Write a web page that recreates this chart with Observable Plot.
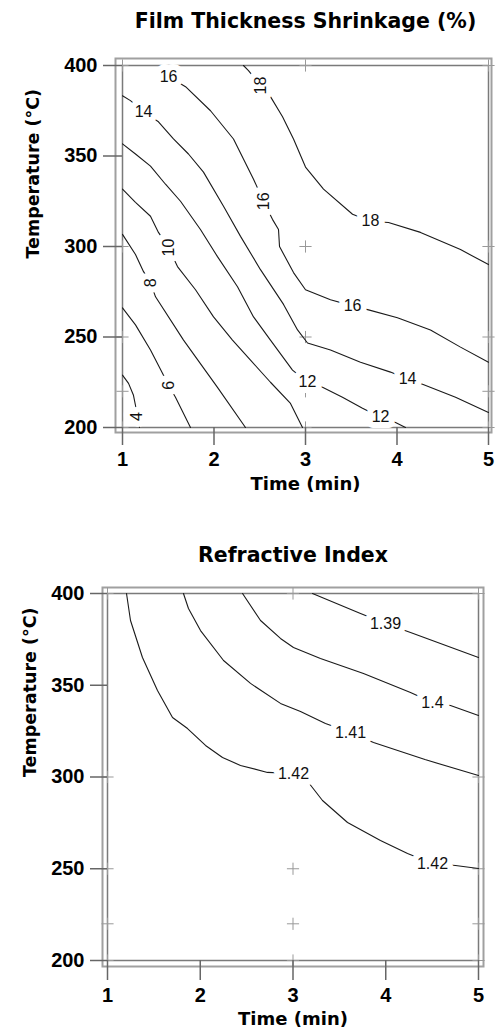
<!DOCTYPE html>
<html><head><meta charset="utf-8">
<script src="https://cdn.jsdelivr.net/npm/d3@7"></script>
<script src="https://cdn.jsdelivr.net/npm/@observablehq/plot@0.6"></script>
<style>body{margin:0;background:#fff} svg{display:block}</style>
</head><body><div id="c"></div>
<script>
// ---------- shared ----------
const timeTicks = [1, 2, 3, 4, 5];
const tempTicks = [200, 250, 300, 350, 400];
const designTimes = [1, 3, 5];
const designTemps = [200, 220, 250, 300, 400];

// ---------- Film Thickness Shrinkage (%) contours: [time, temperature] ----------
const shrink4 = [[1, 228.9], [1.066, 224.4], [1.12, 217.8], [1.153, 209.4], [1.186, 200]];
const shrink6 = [[1, 266.1], [1.142, 256.7], [1.306, 242.8], [1.437, 230], [1.503, 223.3], [1.579, 216.7], [1.743, 200]];
const shrink8 = [[1, 306.7], [1.142, 295.6], [1.23, 286.1], [1.306, 280], [1.361, 272.2], [1.667, 248.3], [2.038, 222.2], [2.344, 200]];
const shrink10 = [[1, 331.7], [1.142, 324.4], [1.306, 316.7], [1.393, 307.8], [1.503, 299.4], [1.601, 288.9], [1.798, 276.1], [1.995, 261.1], [2.202, 248.3], [2.399, 237.2], [2.617, 225], [2.836, 213.3], [2.967, 200]];
const shrink12 = [[1, 356.7], [1.142, 351.1], [1.306, 344.4], [1.47, 334.4], [1.634, 325], [1.852, 309.4], [2.038, 294.4], [2.257, 277.8], [2.432, 261.1], [2.617, 248.3], [2.858, 231.7], [3.022, 225], [3.186, 222.2], [3.404, 216.7], [3.623, 210.6], [3.82, 205.6], [3.984, 202.8], [4.093, 200]];
const shrink14 = [[1, 383.3], [1.087, 380.6], [1.23, 374.4], [1.393, 368.9], [1.557, 359.4], [1.721, 351.1], [1.885, 341.1], [2.104, 322.2], [2.29, 305.6], [2.508, 287.2], [2.76, 268], [2.913, 253.9], [3.022, 246.7], [3.273, 242.8], [3.601, 236.1], [3.929, 230.6], [4.115, 226.7], [4.279, 223.9], [4.64, 216.7], [5, 208.3]];
const shrink16 = [[1.415, 400], [1.503, 393.9], [1.689, 388.3], [1.962, 375], [2.213, 359.4], [2.432, 337.2], [2.541, 325], [2.639, 315], [2.705, 309.4], [2.716, 300], [2.869, 285.6], [3.0, 276.1], [3.273, 270.6], [3.514, 267.2], [3.689, 265], [4.005, 260.6], [4.366, 253.9], [4.694, 244.4], [5, 236.1]];
const shrink18 = [[2.322, 400], [2.377, 397.2], [2.508, 388.9], [2.617, 382.8], [2.749, 371.7], [2.869, 359.4], [3.0, 343.9], [3.197, 331.7], [3.514, 317.8], [3.71, 313.9], [3.907, 313.3], [4.257, 307.8], [4.694, 298.3], [5, 290]];
const shrinkLevels = [4, 6, 8, 10, 12, 14, 16, 18];
const shrinkLines = [shrink4, shrink6, shrink8, shrink10, shrink12, shrink14, shrink16, shrink18];
// label text, time, temperature, vertical?
const shrinkLabels = [
  ["4", 1.153, 206.1, true], ["6", 1.503, 223.3, true], ["8", 1.306, 280, true],
  ["10", 1.503, 299.4, true], ["12", 3.022, 225, false], ["12", 3.82, 205.6, false],
  ["14", 1.23, 374.4, false], ["14", 4.115, 226.7, false], ["16", 1.503, 393.9, false],
  ["16", 2.541, 325, true], ["16", 3.514, 267.2, false], ["18", 2.508, 388.9, true],
  ["18", 3.71, 313.9, false]
];

// ---------- Refractive Index contours ----------
const ri142 = [[1.205, 400], [1.248, 385.3], [1.377, 365.1], [1.539, 347.1], [1.701, 332.4], [1.863, 326.4], [2.057, 317.2], [2.24, 310.6], [2.434, 306.3], [2.725, 302.5], [3.005, 301.9], [3.167, 297], [3.318, 287.2], [3.588, 275.2], [3.943, 265.4], [4.235, 258.3], [4.504, 252.9], [4.752, 251.8], [5, 250.1]];
const ri141 = [[1.819, 400], [1.873, 391.8], [2.003, 379.8], [2.251, 363.5], [2.542, 351], [2.865, 340.1], [3.081, 335.7], [3.35, 329.2], [3.62, 324.3], [3.868, 318.8], [4.423, 309.5], [5, 300.8]];
const ri140 = [[2.456, 400], [2.65, 385.3], [2.865, 375.5], [3.005, 370.6], [3.296, 364.6], [3.76, 356.4], [4.267, 346], [4.504, 340.6], [4.698, 339], [5, 333.5]];
const ri139 = [[3.21, 400], [3.728, 389.1], [3.997, 383.7], [4.267, 378.7], [5, 365.1]];
const riLevels = [1.42, 1.41, 1.40, 1.39];
const riLines = [ri142, ri141, ri140, ri139];
const riLabels = [
  ["1.42", 3.005, 301.9, false], ["1.42", 4.504, 252.9, false],
  ["1.41", 3.62, 324.3, false], ["1.4", 4.504, 340.6, false], ["1.39", 3.997, 383.7, false]
];

// ---------- builders ----------
const design = designTimes.flatMap(t => designTemps.map(T => ({t, T})));
const toRows = (levels, lines) => lines.flatMap((pts, i) => pts.map(([t, T]) => ({level: levels[i], t, T})));
const toLabels = labels => labels.map(([text, t, T, v]) => ({text, t, T, rot: v ? -90 : 0}));
const fmt = d => String(d);

function chart(o) {
  const rows = toRows(o.levels, o.lines);
  const labs = toLabels(o.labels);
  return Plot.plot({
    width: 497, height: o.height,
    marginTop: o.mt, marginBottom: o.mb, marginLeft: o.ml, marginRight: o.mr,
    x: {domain: [1, 5]},
    y: {domain: [200, 400]},
    style: {fontFamily: "'Liberation Sans', Arial, sans-serif", background: "#fff", overflow: "visible"},
    marks: [
      Plot.frame({stroke: "#a0a0a0", strokeWidth: 2, ...o.outer}),
      Plot.frame({stroke: "#7a7a7a", strokeWidth: 1.5}),
      Plot.dot(design, {x: "t", y: "T", symbol: "plus", r: 4, stroke: "#999", strokeWidth: 1}),
      Plot.line(rows, {x: "t", y: "T", z: "level", stroke: "#1a1a1a", strokeWidth: 1.1, curve: "linear"}),
      Plot.text(labs, {x: "t", y: "T", text: "text", rotate: "rot", fontSize: 16, fill: "#111",
        stroke: "white", strokeWidth: 12, fontFamily: "'Liberation Sans', Arial, sans-serif"}),
      Plot.axisY(tempTicks, {ticks: tempTicks, tickFormat: fmt, tickSize: o.yts, tickPadding: o.ytp, fontSize: 20, fontWeight: "bold",
        fontFamily: "'Liberation Sans', Arial, sans-serif", stroke: "#666", strokeWidth: 1.5, fill: "#000", label: null}),
      Plot.axisX(timeTicks, {ticks: timeTicks, tickFormat: fmt, tickSize: o.xts, tickPadding: o.xtp, fontSize: 20, fontWeight: "bold",
        fontFamily: "'Liberation Sans', Arial, sans-serif", stroke: "#666", strokeWidth: 1.5, fill: "#000", label: null}),
      Plot.text([o.title], {frameAnchor: "top", dy: o.titleDy, fontSize: 20.5, fontWeight: "bold",
        fontFamily: "'DejaVu Sans', sans-serif", lineAnchor: "middle", fill: "#000"}),
      Plot.text(["Time (min)"], {frameAnchor: "bottom", dy: o.xlDy, fontSize: 18, fontWeight: "bold",
        fontFamily: "'DejaVu Sans', sans-serif", lineAnchor: "middle", fill: "#000"}),
      Plot.text(["Temperature (°C)"], {frameAnchor: "left", dx: o.ylDx, dy: o.ylDy, rotate: -90, fontSize: 17.5, fontWeight: "bold",
        fontFamily: "'DejaVu Sans', sans-serif", lineAnchor: "middle", fill: "#000"})
    ]
  });
}

const c = document.getElementById("c");
c.append(chart({
  levels: shrinkLevels, lines: shrinkLines, labels: shrinkLabels,
  title: "Film Thickness Shrinkage (%)",
  height: 500, mt: 65, mb: 73, ml: 122, mr: 9,
  outer: {insetLeft: -7, insetTop: -7, insetRight: -3, insetBottom: -5},
  yts: 19, ytp: 6, xts: 18, xtp: 6,
  titleDy: -44, xlDy: 57, ylDx: -89, ylDy: 12
}));
c.append(chart({
  levels: riLevels, lines: riLines, labels: riLabels,
  title: "Refractive Index",
  height: 532, mt: 93, mb: 72, ml: 107, mr: 19,
  outer: {insetLeft: -5, insetTop: -6, insetRight: -5, insetBottom: -6},
  yts: 17, ytp: 6, xts: 20, xtp: 7,
  titleDy: -38, xlDy: 59, ylDx: -77, ylDy: 0
}));
</script>
</body></html>
